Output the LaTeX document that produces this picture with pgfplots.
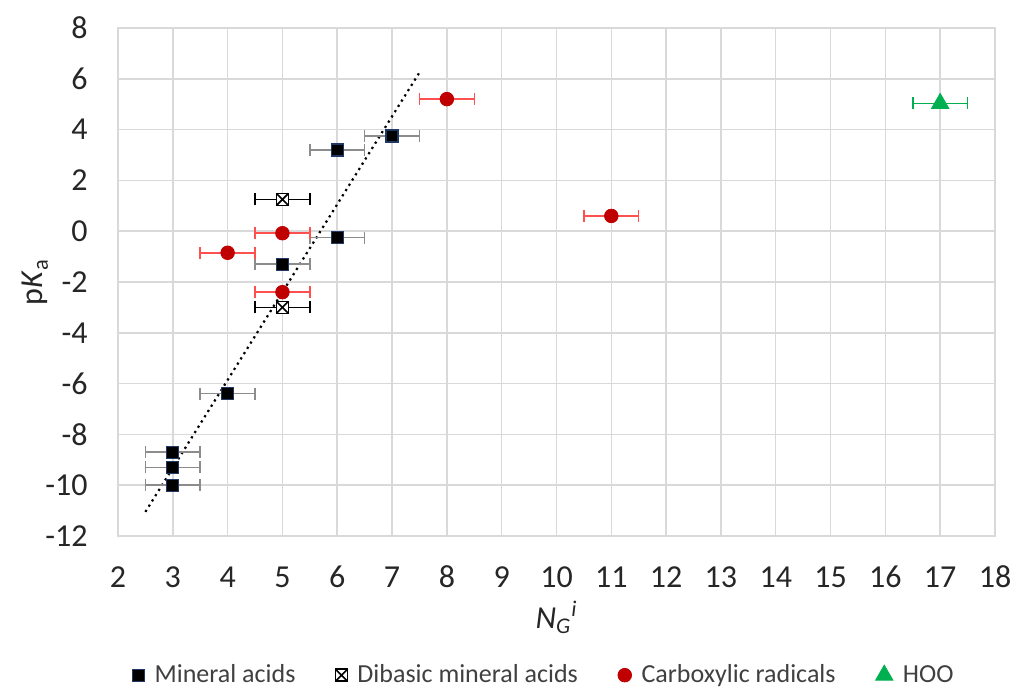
\documentclass[border=0pt]{standalone}
\usepackage{fontspec}
\setmainfont{Carlito}
\usepackage{pgfplots}
\pgfplotsset{compat=1.18}
\definecolor{gridgray}{RGB}{217,217,217}
\definecolor{sqedge}{RGB}{31,56,100}
\definecolor{errgray}{RGB}{140,140,140}
\definecolor{darkred}{RGB}{192,0,0}
\definecolor{lightred}{RGB}{255,80,80}
\definecolor{hoogreen}{RGB}{0,176,80}

\pgfdeclareplotmark{sqx}{%
  \pgfpathrectanglecorners{\pgfqpoint{-\pgfplotmarksize}{-\pgfplotmarksize}}{\pgfqpoint{\pgfplotmarksize}{\pgfplotmarksize}}%
  \pgfusepathqfillstroke
  \pgfpathmoveto{\pgfqpoint{-\pgfplotmarksize}{-\pgfplotmarksize}}%
  \pgfpathlineto{\pgfqpoint{\pgfplotmarksize}{\pgfplotmarksize}}%
  \pgfpathmoveto{\pgfqpoint{-\pgfplotmarksize}{\pgfplotmarksize}}%
  \pgfpathlineto{\pgfqpoint{\pgfplotmarksize}{-\pgfplotmarksize}}%
  \pgfusepathqstroke}

\pgfplotsset{
  xerr/.style={only marks, mark=none, forget plot,
    error bars/.cd, x dir=both, x fixed=0.5,
    error bar style={#1, line width=0.75pt},
    error mark options={#1, rotate=90, line width=0.75pt, mark size=3pt}},
}

\pgfplotstableread{
x y
3 -8.7
3 -9.3
3 -10.0
4 -6.4
5 -1.3
6 -0.25
6 3.2
7 3.75
}\mineral
\pgfplotstableread{
x y
5 1.25
5 -3.0
}\dibasic
\pgfplotstableread{
x y
4 -0.85
5 -0.08
5 -2.4
8 5.2
11 0.6
}\carbox
\pgfplotstableread{
x y
17 5.03
}\hoo

\begin{document}
\begin{tikzpicture}
\path[use as bounding box] (-59pt,-76pt) rectangle (448pt,268pt);
\begin{axis}[
  at={(0,0)}, anchor=south west,
  scale only axis,
  width=438.5pt, height=254pt,
  xmin=2, xmax=18, ymin=-12, ymax=8,
  xtick={2,3,...,18}, ytick={-12,-10,...,8},
  major tick length=0pt,
  grid=major,
  grid style={gridgray, line width=0.75pt},
  axis line style={gridgray, line width=0.75pt},
  tick label style={font=\fontsize{16}{19}\selectfont, text=black!85},
  /pgf/number format/assume math mode=true,
  xticklabel style={anchor=center, yshift=-20.5pt},
  yticklabel style={anchor=east, inner sep=0pt, xshift=-15pt},
  xlabel={\textit{N}\textsubscript{\textit{G}}\textsuperscript{\textit{i}}},
  ylabel={p\textit{K}\textsubscript{a}},
  label style={font=\fontsize{16}{19}\selectfont, text=black!85},
  xlabel style={at={(axis description cs:0.5,-0.16)}, anchor=center},
  ylabel style={at={(axis description cs:-0.0946,0.5)}, anchor=center},
  legend columns=4,
  legend style={draw=none, fill=none, at={(axis description cs:0.487,-0.274)}, anchor=center,
    font=\fontsize{13}{15}\selectfont, text=black!75,
    /tikz/every odd column/.append style={column sep=3pt},
    /tikz/every even column/.append style={column sep=18pt}},
  legend cell align=left,
]
% trendline
\addplot[black, line width=1.1pt, dotted, forget plot] coordinates {(2.5,-11.05) (7.5,6.25)};

% error bars first, so that the marks sit on top
\addplot[xerr=errgray] table {\mineral};
\addplot[xerr=black] table {\dibasic};
\addplot[xerr=lightred] table {\carbox};
\addplot[xerr=hoogreen] table {\hoo};

\addplot[only marks, mark=square*, mark size=3pt, mark options={draw=sqedge, fill=black, line width=0.6pt}]
  table {\mineral};
\addlegendentry{Mineral acids}

\addplot[only marks, mark=sqx, mark size=3pt, mark options={draw=black, fill=white, line width=0.8pt}]
  table {\dibasic};
\addlegendentry{Dibasic mineral acids}

\addplot[only marks, mark=*, mark size=3.4pt, mark options={draw=darkred, fill=darkred}]
  table {\carbox};
\addlegendentry{Carboxylic radicals}

\addplot[only marks, mark=triangle*, mark size=5pt, mark options={draw=hoogreen, fill=hoogreen}]
  table {\hoo};
\addlegendentry{HOO}
\end{axis}
\end{tikzpicture}
\end{document}
